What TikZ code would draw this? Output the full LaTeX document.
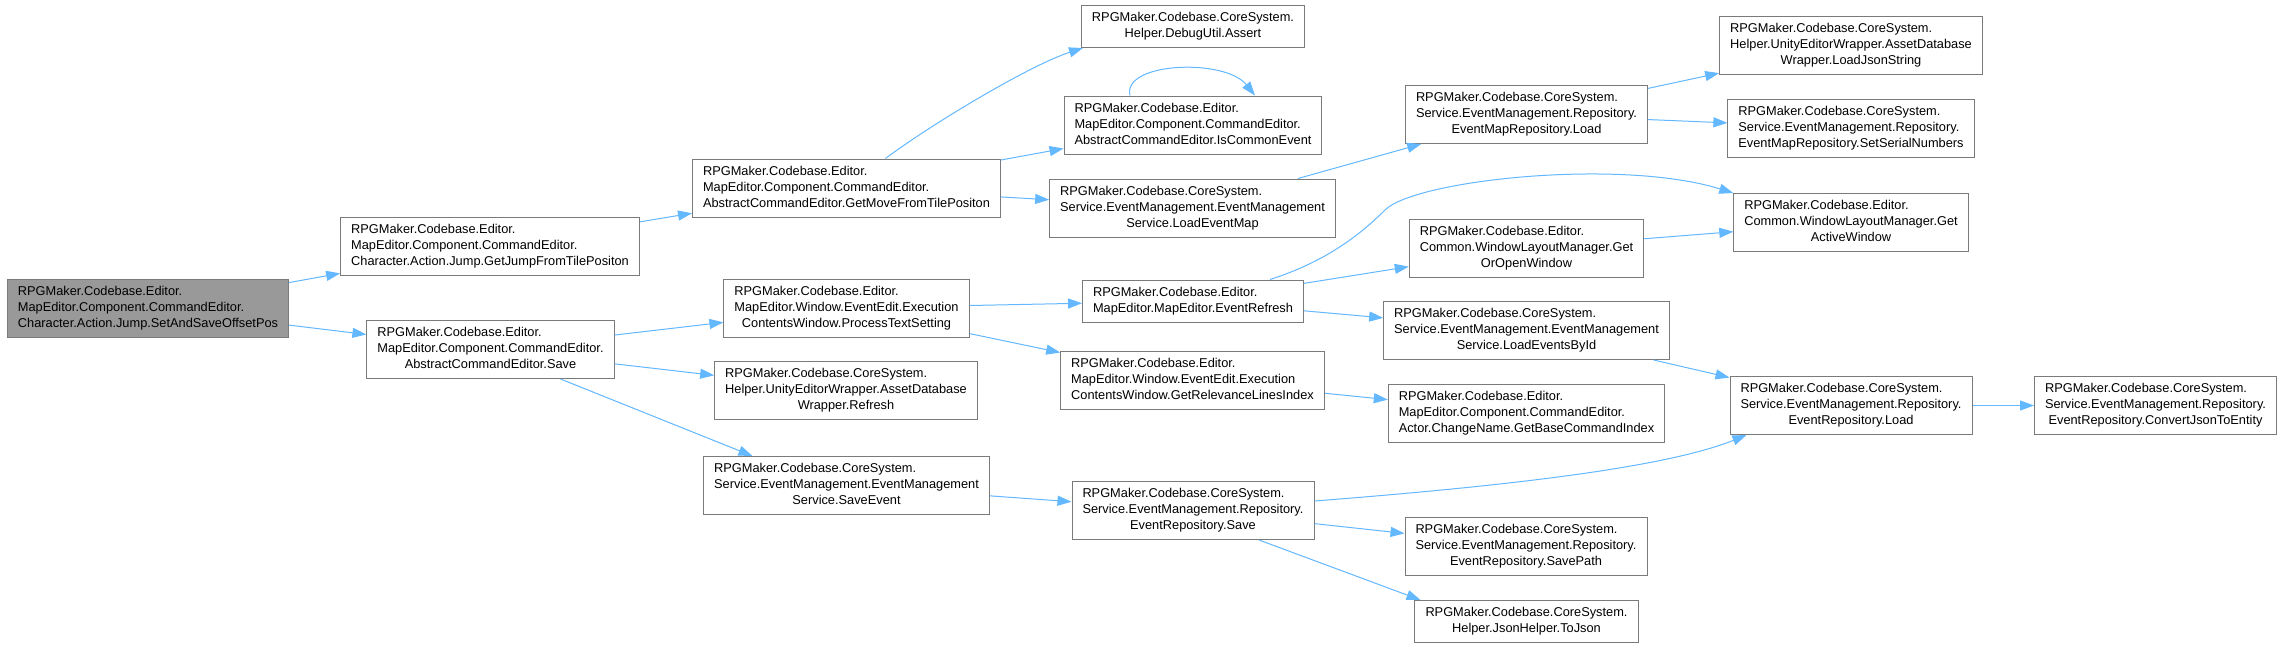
\documentclass[tikz,border=0pt]{standalone}
\usepackage{fontspec}
\setmainfont{Liberation Sans}
\usepackage{xcolor}
\definecolor{callblue}{HTML}{63B8FF}
\definecolor{boxgray}{HTML}{7A7A7A}
\definecolor{rootgray}{HTML}{999999}
\usepackage{tikz}
\usetikzlibrary{arrows.meta}
\tikzset{
  func/.style={draw=boxgray,fill=white,line width=1pt,inner xsep=10.5pt,inner ysep=5pt,%
    font=\fontsize{12.8}{16}\selectfont},
  focus/.style={func,fill=rootgray},
  call/.style={-{Triangle[length=14pt,width=10pt]},line width=1pt,draw=callblue},
}
\newcommand{\fnlabel}[2]{\begin{tabular}{@{}l@{}}#1\\\multicolumn{1}{@{}c@{}}{#2}\end{tabular}}

\begin{document}
\begin{tikzpicture}[x=1pt,y=-1pt]
\path[use as bounding box,fill=white] (0,0) rectangle (2283,648);
\node[focus] (root) at (148,308) {\fnlabel{RPGMaker.Codebase.Editor.\\MapEditor.Component.CommandEditor.}{Character.Action.Jump.SetAndSaveOffsetPos}};
\node[func] (jump) at (490,246.5) {\fnlabel{RPGMaker.Codebase.Editor.\\MapEditor.Component.CommandEditor.}{Character.Action.Jump.GetJumpFromTilePositon}};
\node[func] (save) at (490.5,349.5) {\fnlabel{RPGMaker.Codebase.Editor.\\MapEditor.Component.CommandEditor.}{AbstractCommandEditor.Save}};
\node[func] (getmove) at (846.5,188) {\fnlabel{RPGMaker.Codebase.Editor.\\MapEditor.Component.CommandEditor.}{AbstractCommandEditor.GetMoveFromTilePositon}};
\node[func] (process) at (846.5,308) {\fnlabel{RPGMaker.Codebase.Editor.\\MapEditor.Window.EventEdit.Execution}{ContentsWindow.ProcessTextSetting}};
\node[func] (adbrefresh) at (846,390.5) {\fnlabel{RPGMaker.Codebase.CoreSystem.\\Helper.UnityEditorWrapper.AssetDatabase}{Wrapper.Refresh}};
\node[func] (saveevent) at (846.5,485.5) {\fnlabel{RPGMaker.Codebase.CoreSystem.\\Service.EventManagement.EventManagement}{Service.SaveEvent}};
\node[func] (assert) at (1193,26.5) {\fnlabel{RPGMaker.Codebase.CoreSystem.}{Helper.DebugUtil.Assert}};
\node[func] (iscommon) at (1193,125) {\fnlabel{RPGMaker.Codebase.Editor.\\MapEditor.Component.CommandEditor.}{AbstractCommandEditor.IsCommonEvent}};
\node[func] (loadmap) at (1192.5,208) {\fnlabel{RPGMaker.Codebase.CoreSystem.\\Service.EventManagement.EventManagement}{Service.LoadEventMap}};
\node[func] (evrefresh) at (1193,301) {\fnlabel{RPGMaker.Codebase.Editor.}{MapEditor.MapEditor.EventRefresh}};
\node[func] (relevance) at (1192.5,380) {\fnlabel{RPGMaker.Codebase.Editor.\\MapEditor.Window.EventEdit.Execution}{ContentsWindow.GetRelevanceLinesIndex}};
\node[func] (evsave) at (1193,510.5) {\fnlabel{RPGMaker.Codebase.CoreSystem.\\Service.EventManagement.Repository.}{EventRepository.Save}};
\node[func] (maprepoload) at (1526.5,114.5) {\fnlabel{RPGMaker.Codebase.CoreSystem.\\Service.EventManagement.Repository.}{EventMapRepository.Load}};
\node[func] (getoropen) at (1526.5,248) {\fnlabel{RPGMaker.Codebase.Editor.\\Common.WindowLayoutManager.Get}{OrOpenWindow}};
\node[func] (loadbyid) at (1526.5,330.5) {\fnlabel{RPGMaker.Codebase.CoreSystem.\\Service.EventManagement.EventManagement}{Service.LoadEventsById}};
\node[func] (basecmd) at (1526.5,413.5) {\fnlabel{RPGMaker.Codebase.Editor.\\MapEditor.Component.CommandEditor.}{Actor.ChangeName.GetBaseCommandIndex}};
\node[func] (savepath) at (1526,546.5) {\fnlabel{RPGMaker.Codebase.CoreSystem.\\Service.EventManagement.Repository.}{EventRepository.SavePath}};
\node[func] (tojson) at (1526.5,621.5) {\fnlabel{RPGMaker.Codebase.CoreSystem.}{Helper.JsonHelper.ToJson}};
\node[func] (loadjson) at (1851,45) {\fnlabel{RPGMaker.Codebase.CoreSystem.\\Helper.UnityEditorWrapper.AssetDatabase}{Wrapper.LoadJsonString}};
\node[func] (serial) at (1851,128) {\fnlabel{RPGMaker.Codebase.CoreSystem.\\Service.EventManagement.Repository.}{EventMapRepository.SetSerialNumbers}};
\node[func] (activewin) at (1851,222.5) {\fnlabel{RPGMaker.Codebase.Editor.\\Common.WindowLayoutManager.Get}{ActiveWindow}};
\node[func] (repoload) at (1851,405.5) {\fnlabel{RPGMaker.Codebase.CoreSystem.\\Service.EventManagement.Repository.}{EventRepository.Load}};
\node[func] (convert) at (2155.5,405.5) {\fnlabel{RPGMaker.Codebase.CoreSystem.\\Service.EventManagement.Repository.}{EventRepository.ConvertJsonToEntity}};
\draw[call] (root) -- (jump);
\draw[call] (root) -- (save);
\draw[call] (jump) -- (getmove);
\draw[call] ([xshift=39pt]getmove.north) .. controls (930,125) and (1030,65) .. ([xshift=2pt]assert.south west);
\draw[call] (getmove) -- (iscommon);
\draw[call] ([xshift=-63pt]iscommon.north) .. controls (1122,62) and (1225,58) .. ([xshift=62pt]iscommon.north);
\draw[call] (getmove) -- (loadmap);
\draw[call] (loadmap) -- (maprepoload);
\draw[call] (maprepoload) -- (loadjson);
\draw[call] (maprepoload) -- (serial);
\draw[call] (save) -- (process);
\draw[call] (save) -- (adbrefresh);
\draw[call] ([xshift=70pt]save.south) -- ([xshift=-94pt]saveevent.north);
\draw[call] (process) -- (evrefresh);
\draw[call] (process) -- (relevance);
\draw[call] ([xshift=77pt]evrefresh.north) .. controls (1325,262) and (1360,235) .. (1385,210)
  .. controls (1415,180) and (1620,158) .. (activewin.north west);
\draw[call] (evrefresh) -- (getoropen);
\draw[call] (evrefresh) -- (loadbyid);
\draw[call] (getoropen) -- (activewin);
\draw[call] (loadbyid) -- (repoload);
\draw[call] (relevance) -- (basecmd);
\draw[call] (saveevent) -- (evsave);
\draw[call] ([yshift=9.5pt]evsave.east) .. controls (1480,488) and (1660,470) .. ([xshift=17pt]repoload.south west);
\draw[call] (evsave) -- (savepath);
\draw[call] ([xshift=66pt]evsave.south) -- ([xshift=-106pt]tojson.north);
\draw[call] (repoload) -- (convert);
\end{tikzpicture}
\end{document}
